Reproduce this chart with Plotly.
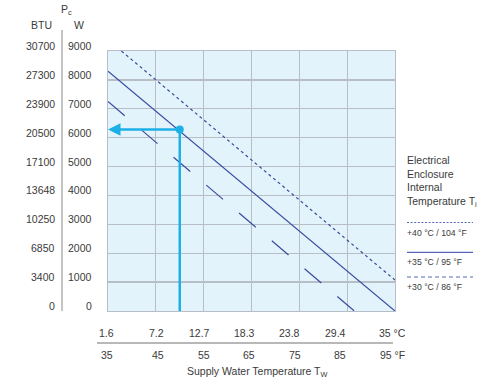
import plotly.graph_objects as go

# ---- data ----
temp_f_ticks = [35, 45, 55, 65, 75, 85, 95]
temp_c_labels = ["1.6", "7.2", "12.7", "18.3", "23.8", "29.4", "35 °C"]
temp_f_labels = ["35", "45", "55", "65", "75", "85", "95 °F"]
w_ticks = [0, 1000, 2000, 3000, 4000, 5000, 6000, 7000, 8000, 9000]
btu_labels = ["0", "3400", "6850", "10250", "13648", "17100", "20500", "23900", "27300", "30700"]

# +40 °C / 104 °F (dotted)
x_40 = [37.8, 95]
y_40 = [9000, 1070]
# +35 °C / 95 °F (solid)
x_35 = [35, 95]
y_35 = [8300, 0]
# +30 °C / 86 °F (dashed)
x_30 = [35, 86.5]
y_30 = [7250, 0]

# example reading
ex_f = 50
ex_w = 6280

legend_labels = ["+40 °C / 104 °F", "+35 °C / 95 °F", "+30 °C / 86 °F"]

# ---- styling (label nudges in px, as printed in the original) ----
c_label_nudge = [-1.5, 1, -4, -7, -9.5, -11.5, -2.5]
f_label_nudge = [-1, 2, 0, -2.5, -4.5, -7, -3]
legend_dash = ["2px,1.6px", "solid", "4px,3px"]
leg_line_y = [222.5, 252.3, 277]

LINE = "#3a4c9c"
CYAN = "#1db0e6"
GRID = "#b8bec6"
TXT = "#3a3a3a"
FONT = "Liberation Sans, Arial, sans-serif"

fig = go.Figure()

fig.add_trace(go.Scatter(x=x_40, y=y_40, mode="lines",
                         line=dict(color=LINE, width=1.2, dash="3px,3px"), cliponaxis=True))
fig.add_trace(go.Scatter(x=x_35, y=y_35, mode="lines",
                         line=dict(color=LINE, width=1.2), cliponaxis=True))
fig.add_trace(go.Scatter(x=x_30, y=y_30, mode="lines",
                         line=dict(color=LINE, width=1.2, dash="22px,21px"), cliponaxis=True))
# example vertical line + point
fig.add_trace(go.Scatter(x=[ex_f, ex_f], y=[ex_w, 0], mode="lines",
                         line=dict(color=CYAN, width=2.5), cliponaxis=False))
fig.add_trace(go.Scatter(x=[ex_f], y=[ex_w], mode="markers",
                         marker=dict(color=CYAN, size=8), cliponaxis=False))

annotations = []
# horizontal arrow to the axis
annotations.append(dict(x=temp_f_ticks[0], y=ex_w, ax=ex_f, ay=ex_w, xref="x", yref="y",
                        axref="x", ayref="y", showarrow=True, arrowhead=2, arrowsize=1,
                        arrowwidth=2.5, arrowcolor=CYAN, text="", standoff=0, startstandoff=0))

# y labels (two columns)
for w, b in zip(w_ticks, btu_labels):
    annotations.append(dict(x=0, y=w, xref="paper", yref="y", text=f"{w}", showarrow=False,
                            xanchor="right", yanchor="middle", xshift=-14, yshift=5,
                            font=dict(size=10.5, color=TXT, family=FONT)))
    annotations.append(dict(x=0, y=w, xref="paper", yref="y", text=b, showarrow=False,
                            xanchor="right", yanchor="middle", xshift=-51, yshift=5,
                            font=dict(size=10.5, color=TXT, family=FONT)))

# x labels (two rows)
for f, c, fl, nc, nf in zip(temp_f_ticks, temp_c_labels, temp_f_labels, c_label_nudge, f_label_nudge):
    annotations.append(dict(x=f, y=0, xref="x", yref="paper", text=c, showarrow=False,
                            xanchor="center", yanchor="middle", yshift=-22, xshift=nc,
                            font=dict(size=10.5, color=TXT, family=FONT)))
    annotations.append(dict(x=f, y=0, xref="x", yref="paper", text=fl, showarrow=False,
                            xanchor="center", yanchor="middle", yshift=-44, xshift=nf,
                            font=dict(size=10.5, color=TXT, family=FONT)))

annotations.append(dict(x=0.52, y=0, xref="paper", yref="paper",
                        text="Supply Water Temperature T<sub>W</sub>", showarrow=False,
                        xanchor="center", yanchor="middle", yshift=-61,
                        font=dict(size=10.5, color=TXT, family=FONT)))

# header
annotations.append(dict(x=0, y=1, xref="paper", yref="paper", text="BTU", showarrow=False,
                        xanchor="center", yanchor="middle", xshift=-67, yshift=26,
                        font=dict(size=10.5, color=TXT, family=FONT)))
annotations.append(dict(x=0, y=1, xref="paper", yref="paper", text="W", showarrow=False,
                        xanchor="center", yanchor="middle", xshift=-29, yshift=26,
                        font=dict(size=10.5, color=TXT, family=FONT)))
annotations.append(dict(x=0, y=1, xref="paper", yref="paper", text="P<sub>c</sub>", showarrow=False,
                        xanchor="center", yanchor="middle", xshift=-42, yshift=41,
                        font=dict(size=10.5, color=TXT, family=FONT)))

# legend block
annotations.append(dict(x=1, y=1, xref="paper", yref="paper",
                        text="Electrical<br>Enclosure<br>Internal<br>Temperature T<sub>i</sub>",
                        showarrow=False, xanchor="left", yanchor="top", align="left",
                        xshift=10, yshift=-101,
                        font=dict(size=10.5, color=TXT, family=FONT)))

shapes = []
for lab, dsh, py in zip(legend_labels, legend_dash, leg_line_y):
    shapes.append(dict(type="line", xref="paper", yref="paper", xsizemode="pixel", ysizemode="pixel",
                       xanchor=1, yanchor=1, x0=12, x1=78, y0=51 - py, y1=51 - py,
                       line=dict(color="#5468b8", width=1.2, dash=dsh)))
    annotations.append(dict(x=1, y=1, xref="paper", yref="paper", text=lab, showarrow=False,
                            xanchor="left", yanchor="middle", xshift=10, yshift=51 - py - 10,
                            font=dict(size=8.7, color=TXT, family=FONT)))

# separator lines
shapes.append(dict(type="line", xref="paper", yref="paper", xsizemode="pixel", ysizemode="pixel",
                   xanchor=0, yanchor=0, x0=-46, x1=-46, y0=0, y1=281,
                   line=dict(color="#b0b0b0", width=1.5)))
shapes.append(dict(type="line", xref="paper", yref="paper", xsizemode="pixel", ysizemode="pixel",
                   xanchor=0, yanchor=0, x0=-11, x1=285, y0=-32, y1=-32,
                   line=dict(color="#b8b8b8", width=2)))

fig.update_layout(
    width=500, height=382,
    margin=dict(l=108, r=105, t=51, b=71, pad=0),
    paper_bgcolor="white",
    plot_bgcolor="#e2f3fc",
    showlegend=False,
    annotations=annotations,
    shapes=shapes,
    font=dict(family=FONT, color=TXT),
    xaxis=dict(range=[35, 95], tickvals=temp_f_ticks, showticklabels=False, showgrid=True,
               gridcolor=GRID, gridwidth=1.3, zeroline=False, showline=True, mirror=True,
               linecolor=GRID, linewidth=1.3, ticks=""),
    yaxis=dict(range=[0, 9000], tickvals=w_ticks, showticklabels=False, showgrid=True,
               gridcolor=GRID, gridwidth=1.3, zeroline=False, showline=True, mirror=True,
               linecolor=GRID, linewidth=1.3, ticks=""),
)

fig.write_html("out.html", config={"displayModeBar": False, "staticPlot": True},
               post_script="document.body.style.margin='0px';document.body.style.overflow='hidden';")
